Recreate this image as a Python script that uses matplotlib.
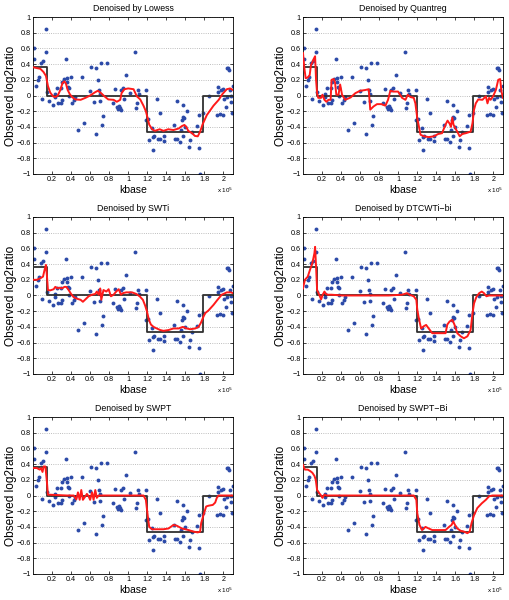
import matplotlib
matplotlib.use("Agg")
import matplotlib.pyplot as plt

plt.rcParams["font.family"] = ["Liberation Sans", "DejaVu Sans"]

# observed log2 ratios (x in units of 1e5 kbase)
x_pts = [0.010, 0.015, 0.032, 0.049, 0.063, 0.080, 0.098, 0.108, 0.136, 0.140,
         0.150, 0.164, 0.206, 0.227, 0.236, 0.252, 0.259, 0.290, 0.294, 0.304,
         0.301, 0.329, 0.346, 0.353, 0.357, 0.364, 0.374, 0.381, 0.402, 0.409,
         0.433, 0.444, 0.476, 0.510, 0.538, 0.601, 0.612, 0.636, 0.661, 0.664,
         0.678, 0.692, 0.699, 0.706, 0.713, 0.727, 0.731, 0.776, 0.843, 0.864,
         0.881, 0.892, 0.899, 0.909, 0.923, 0.927, 0.941, 0.958, 0.979, 1.014,
         1.066, 1.080, 1.091, 1.101, 1.112, 1.185, 1.185, 1.206, 1.220, 1.245,
         1.255, 1.262, 1.269, 1.301, 1.329, 1.315, 1.336, 1.371, 1.378, 1.476,
         1.493, 1.507, 1.517, 1.545, 1.563, 1.570, 1.573, 1.580, 1.598, 1.615,
         1.636, 1.650, 1.671, 1.727, 1.741, 1.748, 1.755, 1.790, 1.853, 1.930,
         1.944, 1.947, 1.965, 1.972, 1.993, 2.000, 2.007, 2.024, 2.042, 2.052,
         2.063, 2.070, 2.077, 2.084, 2.094, 2.098, 2.042, 1.585, 1.552]
y_pts = [0.60, 0.46, 0.12, 0.20, 0.23, 0.41, -0.04, 0.44, 0.85, 0.55,
         0.04, -0.07, -0.12, 0.02, -0.02, 0.10, -0.09, 0.10, -0.10, -0.06,
         0.17, 0.21, 0.47, 0.17, 0.22, 0.11, 0.00, 0.10, 0.23, -0.10,
         -0.06, -0.02, -0.44, 0.23, -0.35, 0.06, 0.36, -0.08, 0.35, -0.49,
         0.20, 0.07, 0.02, -0.07, 0.42, -0.37, -0.26, 0.42, -0.10, 0.08,
         -0.15, -0.17, -0.13, -0.16, -0.19, 0.07, 0.10, -0.05, 0.26, 0.03,
         0.55, -0.16, -0.09, 0.07, 0.02, 0.07, -0.31, -0.30, -0.57, -0.42,
         -0.70, -0.53, -0.52, -0.05, -0.22, -0.55, -0.55, -0.58, -0.52, -0.37,
         -0.55, -0.56, -0.07, -0.59, -0.31, -0.28, -0.12, -0.52, -0.40, -0.20,
         -0.65, -0.57, -0.47, -0.39, -0.67, -0.25, -1.00, -0.22, -0.01, -0.25,
         0.11, 0.05, -0.23, 0.07, 0.08, -0.25, -0.05, -0.15, 0.35, 0.35,
         0.32, 0.07, -0.01, -0.08, -0.22, 0.12, -0.02, -0.29, -0.44]

# true segment profile
step_x = [0.0, 0.15, 0.15, 1.20, 1.20, 1.79, 1.79, 2.10]
step_y = [0.36, 0.36, 0.0, 0.0, -0.465, -0.465, 0.0, 0.0]

titles = ["Denoised by Lowess", "Denoised by Quantreg", "Denoised by SWTi",
          "Denoised by DTCWTi\u2212bi", "Denoised by SWPT", "Denoised by SWPT\u2212Bi"]

lowess_x = [0.0, 0.077, 0.11, 0.136, 0.157, 0.18, 0.21, 0.234, 0.26, 0.287, 0.31, 0.33,
            0.346, 0.364, 0.385, 0.41, 0.444, 0.5, 0.55, 0.6, 0.65, 0.68, 0.706, 0.75,
            0.79, 0.846, 0.88, 0.916, 0.93, 0.96, 1.0, 1.056, 1.09, 1.126, 1.16, 1.185,
            1.2, 1.22, 1.25, 1.28, 1.33, 1.37, 1.42, 1.475, 1.53, 1.563, 1.59, 1.61,
            1.63, 1.67, 1.7, 1.73, 1.755, 1.78, 1.825, 1.895, 1.95, 1.99, 2.035, 2.07, 2.1]
lowess_y = [0.36, 0.34, 0.3, 0.25, 0.12, 0.04, -0.01, -0.02, 0.0, 0.07, 0.16, 0.18,
            0.15, 0.07, 0.02, -0.02, -0.05, -0.055, -0.03, 0.0, 0.04, 0.06, 0.04, -0.01,
            -0.05, -0.055, -0.08, -0.055, 0.03, 0.08, 0.09, 0.08, -0.01, -0.05, -0.13, -0.2,
            -0.27, -0.37, -0.43, -0.45, -0.43, -0.45, -0.43, -0.44, -0.42, -0.39, -0.375, -0.4,
            -0.45, -0.48, -0.515, -0.52, -0.46, -0.37, -0.25, -0.13, -0.055, 0.02, 0.08, 0.09, 0.07]

quant_x = [0.0, 0.014, 0.028, 0.05, 0.07, 0.084, 0.098, 0.11, 0.127, 0.137, 0.148, 0.16,
           0.19, 0.204, 0.225, 0.246, 0.267, 0.29, 0.3, 0.323, 0.337, 0.35, 0.373, 0.39,
           0.41, 0.443, 0.5, 0.55, 0.6, 0.654, 0.69, 0.706, 0.74, 0.777, 0.823, 0.865,
           0.893, 0.917, 0.95, 0.998, 1.04, 1.076, 1.1, 1.128, 1.163, 1.18, 1.2, 1.216,
           1.234, 1.27, 1.32, 1.374, 1.42, 1.46, 1.48, 1.505, 1.518, 1.54, 1.553, 1.568,
           1.58, 1.6, 1.62, 1.645, 1.673, 1.71, 1.76, 1.78, 1.796, 1.814, 1.84, 1.884,
           1.92, 1.937, 1.954, 1.97, 1.996, 2.025, 2.05, 2.07, 2.084, 2.1]
quant_y = [0.54, 0.35, 0.22, 0.23, 0.26, 0.39, 0.42, 0.46, 0.5, 0.2, 0.03, -0.03,
           -0.03, 0.01, -0.055, -0.08, -0.055, -0.055, 0.2, 0.21, 0.16, 0.01, 0.01, 0.14,
           0.01, -0.055, -0.025, 0.03, 0.06, 0.07, 0.08, -0.18, -0.14, -0.11, -0.11, -0.13,
           -0.055, 0.06, 0.05, 0.05, -0.03, -0.055, 0.01, -0.02, -0.03, -0.1, -0.29, -0.39,
           -0.5, -0.52, -0.53, -0.52, -0.49, -0.48, -0.42, -0.35, -0.32, -0.36, -0.4, -0.28,
           -0.37, -0.42, -0.46, -0.52, -0.49, -0.48, -0.46, -0.35, -0.18, -0.1, -0.05, -0.055,
           -0.01, -0.1, -0.03, -0.055, -0.01, 0.07, 0.2, 0.21, 0.05, -0.03]

swti_x = [0.0, 0.04, 0.077, 0.105, 0.122, 0.136, 0.147, 0.157, 0.18, 0.217, 0.234, 0.26,
          0.28, 0.304, 0.33, 0.35, 0.374, 0.4, 0.426, 0.46, 0.5, 0.524, 0.55, 0.584,
          0.62, 0.654, 0.67, 0.69, 0.706, 0.717, 0.74, 0.77, 0.794, 0.818, 0.846, 0.874,
          0.9, 0.923, 0.944, 0.98, 1.04, 1.084, 1.12, 1.154, 1.178, 1.196, 1.217, 1.238,
          1.266, 1.3, 1.336, 1.37, 1.423, 1.475, 1.528, 1.573, 1.615, 1.65, 1.703, 1.738,
          1.762, 1.79, 1.808, 1.843, 1.895, 1.937, 1.982, 2.035, 2.077, 2.1]
swti_y = [0.2, 0.2, 0.22, 0.24, 0.33, 0.39, 0.24, 0.07, 0.065, 0.08, 0.11, 0.09,
          0.1, 0.09, 0.11, 0.11, 0.07, 0.02, -0.02, -0.04, -0.055, -0.08, -0.05, -0.01,
          0.01, 0.02, 0.05, 0.01, 0.09, -0.055, 0.07, 0.05, 0.08, -0.01, 0.01, 0.05,
          0.08, 0.01, 0.03, 0.04, 0.04, 0.02, -0.01, -0.055, -0.13, -0.2, -0.31, -0.37,
          -0.4, -0.42, -0.44, -0.45, -0.44, -0.42, -0.42, -0.4, -0.42, -0.43, -0.42, -0.4,
          -0.35, -0.27, -0.225, -0.19, -0.12, -0.055, 0.01, 0.04, 0.04, 0.03]

dtcwt_x = [0.0, 0.02, 0.05, 0.074, 0.098, 0.12, 0.127, 0.137, 0.148, 0.17, 0.19, 0.207,
           0.225, 0.24, 0.26, 0.3, 0.41, 0.55, 0.724, 0.9, 1.04, 1.093, 1.118, 1.163,
           1.19, 1.2, 1.216, 1.24, 1.27, 1.293, 1.32, 1.357, 1.41, 1.46, 1.497, 1.515,
           1.54, 1.568, 1.59, 1.62, 1.656, 1.69, 1.726, 1.76, 1.78, 1.796, 1.82, 1.85,
           1.877, 1.9, 1.926, 1.954, 2.025, 2.1]
dtcwt_y = [0.09, 0.2, 0.24, 0.33, 0.41, 0.54, 0.62, 0.37, 0.07, 0.01, -0.05, 0.01,
           0.05, 0.02, 0.01, 0.01, 0.0, 0.0, 0.0, 0.0, 0.01, 0.03, 0.01, -0.01,
           -0.055, -0.18, -0.29, -0.42, -0.39, -0.375, -0.42, -0.48, -0.48, -0.48, -0.48, -0.37,
           -0.33, -0.31, -0.37, -0.48, -0.52, -0.545, -0.52, -0.44, -0.225, -0.1, -0.02, 0.03,
           0.05, 0.03, -0.01, 0.0, 0.0, 0.0]

swpt_x = [0.0, 0.04, 0.07, 0.084, 0.1, 0.112, 0.13, 0.147, 0.157, 0.18, 0.357, 0.427,
          0.455, 0.472, 0.49, 0.507, 0.524, 0.55, 0.566, 0.584, 0.6, 0.62, 0.636, 0.654,
          0.67, 0.69, 0.706, 1.126, 1.16, 1.185, 1.206, 1.22, 1.25, 1.3, 1.37, 1.423,
          1.475, 1.51, 1.563, 1.633, 1.685, 1.73, 1.755, 1.766, 1.79, 1.818, 1.843, 1.888,
          1.913, 1.93, 1.948, 2.1]
swpt_y = [0.35, 0.35, 0.33, 0.35, 0.3, 0.37, 0.37, 0.16, 0.01, 0.01, 0.0, 0.0,
          -0.05, 0.04, -0.055, 0.07, -0.055, -0.01, 0.02, -0.01, -0.055, 0.04, -0.055, 0.07,
          -0.03, 0.0, 0.0, 0.0, 0.0, -0.055, -0.27, -0.4, -0.43, -0.43, -0.43, -0.42,
          -0.375, -0.385, -0.42, -0.44, -0.46, -0.47, -0.46, -0.35, -0.25, -0.14, -0.13, -0.12,
          -0.09, -0.03, 0.0, 0.0]

swptbi_x = [0.0, 0.02, 0.05, 0.077, 0.098, 0.12, 0.134, 0.148, 0.17, 0.19, 0.204, 0.225,
            0.25, 0.55, 0.9, 1.163, 1.19, 1.2, 1.223, 1.25, 1.286, 1.32, 1.357, 1.427,
            1.497, 1.533, 1.56, 1.578, 1.596, 1.62, 1.656, 1.69, 1.726, 1.75, 1.77, 1.796,
            1.83, 1.877, 1.92, 1.954, 1.99, 2.1]
swptbi_y = [0.39, 0.33, 0.33, 0.31, 0.29, 0.25, 0.2, 0.07, 0.03, 0.0, -0.03, 0.01,
            0.0, 0.0, 0.0, 0.0, -0.055, -0.225, -0.375, -0.44, -0.4, -0.42, -0.44, -0.44,
            -0.44, -0.4, -0.375, -0.33, -0.375, -0.42, -0.45, -0.46, -0.48, -0.46, -0.35, -0.25,
            -0.16, -0.1, -0.055, -0.01, 0.0, 0.0]

curves = [(lowess_x, lowess_y), (quant_x, quant_y), (swti_x, swti_y),
          (dtcwt_x, dtcwt_y), (swpt_x, swpt_y), (swptbi_x, swptbi_y)]

xticks = [0.2, 0.4, 0.6, 0.8, 1.0, 1.2, 1.4, 1.6, 1.8, 2.0]
xticklabels = ["0.2", "0.4", "0.6", "0.8", "1", "1.2", "1.4", "1.6", "1.8", "2"]
yticks = [-1, -0.8, -0.6, -0.4, -0.2, 0, 0.2, 0.4, 0.6, 0.8, 1]
yticklabels = ["\u22121", "\u22120.8", "\u22120.6", "\u22120.4", "\u22120.2", "0",
               "0.2", "0.4", "0.6", "0.8", "1"]

W, H = 509, 600
fig = plt.figure(figsize=(W / 100, H / 100), dpi=100)
lefts = [33, 303]
tops = [17, 217, 417]
aw, ah = 200, 157

for i, (title, (cx, cy)) in enumerate(zip(titles, curves)):
    col, row = i % 2, i // 2
    ax = fig.add_axes([lefts[col] / W, 1 - (tops[row] + ah) / H, aw / W, ah / H])
    ax.yaxis.grid(True, ls=":", color="#a8a8a8", lw=0.6)
    ax.set_axisbelow(True)
    ax.plot(x_pts, y_pts, "o", color="#2c4aa8", ms=2.8, mec="none", zorder=2)
    ax.plot(step_x, step_y, "-", color="#303030", lw=1.3, zorder=3)
    ax.plot(cx, cy, "-", color="#ff1a1a", lw=1.4, zorder=4)
    ax.set_xlim(0, 2.1)
    ax.set_ylim(-1, 1)
    ax.set_xticks(xticks)
    ax.set_xticklabels(xticklabels)
    ax.set_yticks(yticks)
    ax.set_yticklabels(yticklabels)
    ax.tick_params(direction="in", length=2.5, width=0.5, labelsize=5.2, pad=1.5,
                   top=True, right=True)
    for s in ax.spines.values():
        s.set_linewidth(0.6)
    ax.set_title(title, fontsize=6.3, pad=4)
    ax.text(0.5, -0.1, "kbase", transform=ax.transAxes, ha="center", va="center",
            fontsize=7.5)
    ax.text(-0.11, 0.5, "Observed log2ratio", transform=ax.transAxes, rotation=90,
            ha="center", va="center", fontsize=8.6)
    ax.text(1.0, -0.075, "x 10$^5$", transform=ax.transAxes, ha="right", va="top",
            fontsize=4.5)

fig.savefig("out.png", dpi=100, facecolor="white")
